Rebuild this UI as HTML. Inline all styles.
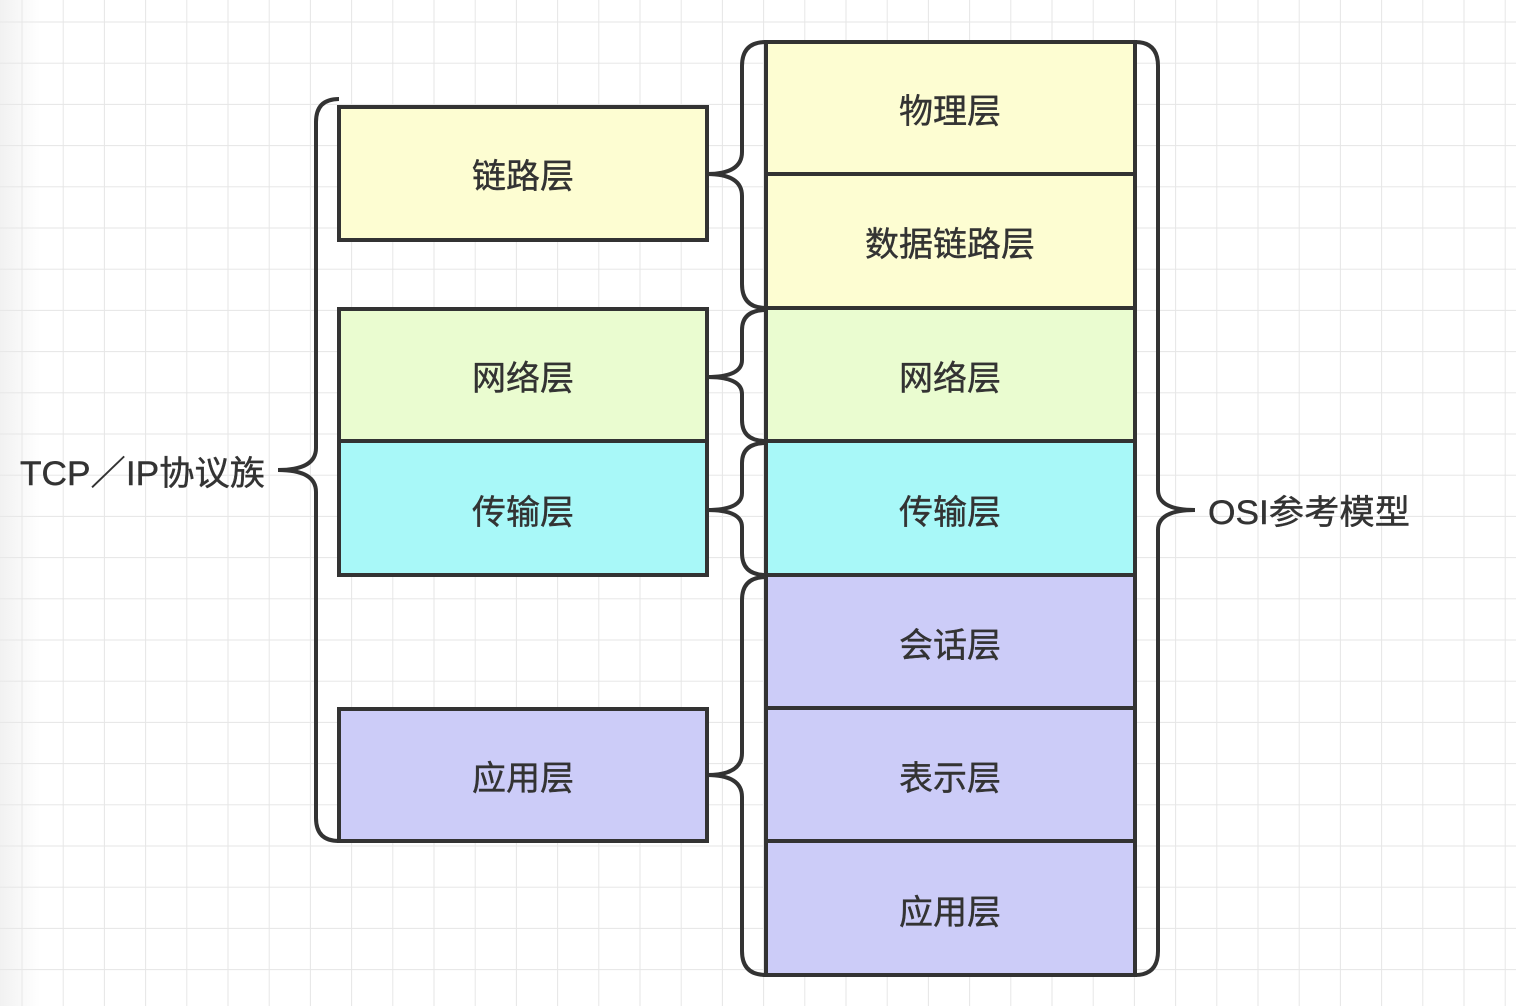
<!DOCTYPE html>
<html><head><meta charset="utf-8"><style>
html,body{margin:0;padding:0;width:1516px;height:1006px;overflow:hidden;background:#fff}
svg{display:block}
text{font-family:"Liberation Sans","Noto Sans CJK SC",sans-serif;font-size:34px;fill:#333;stroke:#333;stroke-width:0.4}
</style></head><body>
<svg width="1516" height="1006" viewBox="0 0 1516 1006">
<defs>
<pattern id="g" x="21.5" y="21.5" width="41.2" height="41.2" patternUnits="userSpaceOnUse">
<path d="M0 0 H41.2 M0 0 V41.2" stroke="#e6e6e6" stroke-width="2" fill="none"/>
</pattern>
<linearGradient id="lg" x1="0" x2="1"><stop offset="0" stop-color="#e8e8e8"/><stop offset="1" stop-color="#e8e8e8" stop-opacity="0"/></linearGradient>
</defs>
<rect width="1516" height="1006" fill="url(#g)"/>
<rect width="40" height="1006" fill="url(#lg)" opacity="0.6"/>
<g stroke="#333" stroke-width="4">
<rect x="339" y="107" width="368" height="133" fill="#fdfdd2"/>
<rect x="339" y="309" width="368" height="132" fill="#eafcd0"/>
<rect x="339" y="441" width="368" height="134" fill="#a8f8f8"/>
<rect x="339" y="709" width="368" height="132" fill="#ccccf8"/>
<rect x="766" y="42" width="369" height="132" fill="#fdfdd2"/>
<rect x="766" y="174" width="369" height="134" fill="#fdfdd2"/>
<rect x="766" y="308" width="369" height="133" fill="#eafcd0"/>
<rect x="766" y="441" width="369" height="134" fill="#a8f8f8"/>
<rect x="766" y="575" width="369" height="133" fill="#ccccf8"/>
<rect x="766" y="708" width="369" height="133" fill="#ccccf8"/>
<rect x="766" y="841" width="369" height="134" fill="#ccccf8"/>
</g>
<g stroke="#333" stroke-width="4" fill="none">
<path d="M339 99 Q316 99 316 122 L316 448 Q316 470 278 470 Q316 470 316 492 L316 818 Q316 841 339 841"/>
<path d="M766 42 Q742 42 742 66 L742 152 Q742 174 707 174 Q742 174 742 196 L742 284 Q742 308 766 308"/>
<path d="M766 310 Q742 310 742 330 L742 360 Q742 377 707 377 Q742 377 742 394 L742 420 Q742 441 766 441"/>
<path d="M766 443 Q742 443 742 463 L742 493 Q742 510 707 510 Q742 510 742 527 L742 553 Q742 575 766 575"/>
<path d="M766 577 Q742 577 742 600 L742 753 Q742 775 707 775 Q742 775 742 797 L742 951 Q742 975 766 975"/>
<path d="M1135 42 Q1158 42 1158 66 L1158 490 Q1158 510 1195 510 Q1158 510 1158 530 L1158 951 Q1158 975 1135 975"/>
</g>
<g text-anchor="middle">
<text x="523" y="188">链路层</text>
<text x="523" y="390">网络层</text>
<text x="523" y="524">传输层</text>
<text x="523" y="790">应用层</text>
<text x="950" y="123">物理层</text>
<text x="950" y="256">数据链路层</text>
<text x="950" y="390">网络层</text>
<text x="950" y="524">传输层</text>
<text x="950" y="657">会话层</text>
<text x="950" y="790">表示层</text>
<text x="950" y="924">应用层</text>
</g>
<text x="20" y="485" textLength="245" lengthAdjust="spacingAndGlyphs">TCP／IP协议族</text>
<text x="1208" y="524" textLength="202" lengthAdjust="spacingAndGlyphs">OSI参考模型</text>
</svg>
</body></html>
